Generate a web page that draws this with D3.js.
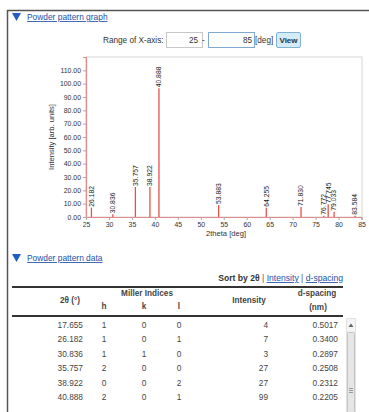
<!DOCTYPE html>
<html><head><meta charset="utf-8">
<script src="https://cdn.jsdelivr.net/npm/d3@7"></script>
<style>
body{margin:0;background:#fff;}
svg{display:block;font-family:"Liberation Sans",Arial,sans-serif;}
</style>
</head><body><svg id="c" width="369" height="412"></svg>
<script>
const peakPositions = [26.182,30.836,35.757,38.922,40.888,53.883,64.255,71.830,76.772,77.745,79.033,83.584];
const peakIntensities = [7,2,22.5,22.5,96.5,9,7,7.5,1,9.5,4,1];
const peakLabels = ["26.182","30.836","35.757","38.922","40.888","53.883","64.255","71.830","76.772","77.745","79.033","83.584"];
const xTicks = [25,30,35,40,45,50,55,60,65,70,75,80,85];
const yTicks = [0,10,20,30,40,50,60,70,80,90,100,110];
const xDomain = [25,85];
const yDomain = [0,120];
const table2theta = ["17.655","26.182","30.836","35.757","38.922","40.888"];
const tableH = [1,1,1,2,0,2];
const tableK = [0,0,1,0,0,0];
const tableL = [0,1,0,0,2,1];
const tableIntensity = [4,7,3,27,27,99];
const tableDspacing = ["0.5017","0.3400","0.2897","0.2508","0.2312","0.2205"];

const svg = d3.select("#c");
const blue = "#1d4fa8";
// page frame
svg.append("line").attr("x1",7).attr("x2",369).attr("y1",10.5).attr("y2",10.5).attr("stroke","#555").attr("stroke-width",1.5);
svg.append("line").attr("x1",7.5).attr("x2",7.5).attr("y1",10).attr("y2",412).attr("stroke","#555").attr("stroke-width",1.5);

function section(y, label){
  svg.append("path").attr("d",`M12,${y-5}L21,${y-5}L16.5,${y+3}Z`).attr("fill","#1f5fc4");
  svg.append("text").attr("x",27).attr("y",y+2).attr("font-size",8.4).attr("fill",blue)
    .attr("text-decoration","underline").text(label);
}
section(18,"Powder pattern graph");
section(259,"Powder pattern data");

// range controls
svg.append("text").attr("x",103).attr("y",43).attr("font-size",8.2).attr("fill","#333").text("Range of X-axis:");
svg.append("rect").attr("x",166.5).attr("y",32.5).attr("width",36).attr("height",15).attr("fill","#fff").attr("stroke","#c8c8c8");
svg.append("text").attr("x",198).attr("y",43).attr("font-size",8.2).attr("text-anchor","end").attr("fill","#333").text("25");
svg.append("text").attr("x",202).attr("y",43).attr("font-size",8.2).attr("fill","#333").text("-");
svg.append("rect").attr("x",208.5).attr("y",32.5).attr("width",46).attr("height",15).attr("fill","#fff").attr("stroke","#7fa8d0");
svg.append("text").attr("x",252).attr("y",43).attr("font-size",8.2).attr("text-anchor","end").attr("fill","#333").text("85");
svg.append("text").attr("x",255).attr("y",43).attr("font-size",8.2).attr("fill","#333").text("[deg]");
svg.append("rect").attr("x",276.5).attr("y",32.5).attr("width",24).attr("height",15).attr("rx",1.5).attr("fill","#d5ebf8").attr("stroke","#7fb3d6");
svg.append("text").attr("x",288.5).attr("y",43).attr("font-size",8).attr("font-weight","bold").attr("text-anchor","middle").attr("fill","#234").text("View");

// chart
const x = d3.scaleLinear().domain(xDomain).range([86,361.5]);
const y = d3.scaleLinear().domain(yDomain).range([217,57]);
svg.append("rect").attr("x",86).attr("y",57).attr("width",276).attr("height",160).attr("fill","none").attr("stroke","#d6d6d6");

const yAxis = svg.append("g").attr("transform","translate(86,0)")
  .call(d3.axisLeft(y).tickValues(yTicks).tickFormat(d3.format(".2f")).tickSize(3).tickPadding(2));
const xAxis = svg.append("g").attr("transform","translate(0,217)")
  .call(d3.axisBottom(x).tickValues(xTicks).tickFormat(d3.format("d")).tickSize(3).tickPadding(2));
[yAxis,xAxis].forEach(a=>{
  a.select(".domain").attr("stroke","#e58a8a").attr("stroke-width",1.2);
  a.selectAll(".tick line").attr("stroke","#aaa");
  a.selectAll("text").attr("font-size",6.9).attr("fill","#333").attr("font-family","Liberation Sans, Arial, sans-serif");
});
svg.append("text").attr("transform","translate(54,137) rotate(-90)").attr("text-anchor","middle")
  .attr("font-size",7.6).attr("fill","#333").text("Intensity [arb. units]");
svg.append("text").attr("x",226).attr("y",236).attr("text-anchor","middle")
  .attr("font-size",7.6).attr("fill","#333").text("2theta [deg]");

const peaks = peakPositions.map((p,i)=>({p, v:peakIntensities[i], l:peakLabels[i]}));
svg.append("g").selectAll("line").data(peaks).join("line")
  .attr("x1",d=>x(d.p)).attr("x2",d=>x(d.p)).attr("y1",y(0)).attr("y2",d=>y(d.v))
  .attr("stroke","#e8504f").attr("stroke-width",1.3);
svg.append("g").selectAll("text").data(peaks).join("text")
  .attr("transform",d=>`translate(${x(d.p)},${Math.min(y(d.v),216.5)-1}) rotate(-90)`)
  .attr("dy","0.35em").attr("font-size",6.8).attr("fill","#222").text(d=>d.l);

// table
const sortY = 281;
const sortParts = [["Sort by 2θ","#333","bold",false],[" | ","#555","normal",false],["Intensity",blue,"normal",true],[" | ","#555","normal",false],["d-spacing",blue,"normal",true]];
const st = svg.append("text").attr("x",343).attr("y",sortY).attr("text-anchor","end").attr("font-size",8.6);
sortParts.forEach(s=>st.append("tspan").attr("fill",s[1]).attr("font-weight",s[2]).attr("text-decoration",s[3]?"underline":null).attr("xml:space","preserve").text(s[0]));

svg.append("line").attr("x1",12).attr("x2",343).attr("y1",287).attr("y2",287).attr("stroke","#333").attr("stroke-width",2);
svg.append("line").attr("x1",12).attr("x2",343).attr("y1",316).attr("y2",316).attr("stroke","#333").attr("stroke-width",2);
const hdr = (t,xx,yy,anchor)=>svg.append("text").attr("x",xx).attr("y",yy).attr("text-anchor",anchor||"middle")
  .attr("font-size",8.2).attr("font-weight","bold").attr("fill","#444").text(t);
hdr("2θ (°)",70,303); hdr("Miller Indices",147,296); hdr("h",104,309); hdr("k",144,309); hdr("l",179,309);
hdr("Intensity",249,303); hdr("d-spacing",317,296); hdr("(nm)",318,310);

const rowY = d3.scalePoint().domain(d3.range(table2theta.length)).range([328,400]);
const cols = [
  {vals:table2theta, x:83, a:"end"},
  {vals:tableH, x:104, a:"middle"},
  {vals:tableK, x:144, a:"middle"},
  {vals:tableL, x:179, a:"middle"},
  {vals:tableIntensity, x:268, a:"end"},
  {vals:tableDspacing, x:338, a:"end"}
];
cols.forEach(c=>{
  svg.append("g").selectAll("text").data(c.vals).join("text")
    .attr("x",c.x).attr("y",(d,i)=>rowY(i)).attr("text-anchor",c.a)
    .attr("font-size",8.3).attr("fill","#444").text(d=>d);
});
// scrollbar
svg.append("rect").attr("x",346.5).attr("y",318.5).attr("width",9).attr("height",94).attr("fill","#f4f4f4").attr("stroke","#e2e2e2");
svg.append("path").attr("d","M348.5,327L351,323.5L353.5,327Z").attr("fill","#666");
svg.append("rect").attr("x",347.5).attr("y",332.5).attr("width",7).attr("height",80).attr("rx",1).attr("fill","#e6e6e6").attr("stroke","#c4c4c4");
[388,390,392].forEach(g=>svg.append("line").attr("x1",349).attr("x2",353).attr("y1",g+0.5).attr("y2",g+0.5).attr("stroke","#999"));
</script>
</body></html>
